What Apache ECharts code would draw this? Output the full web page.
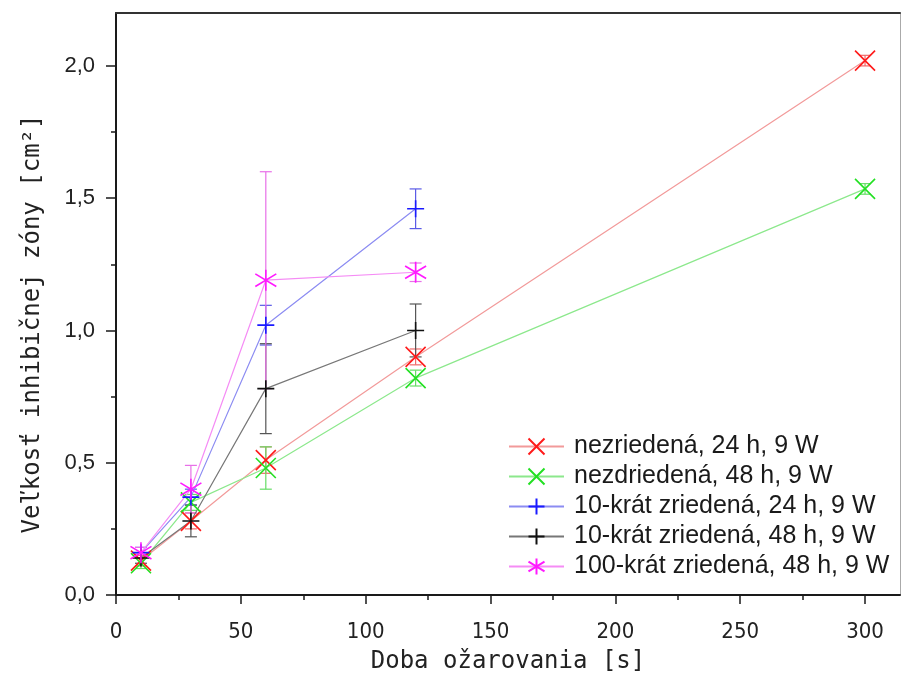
<!DOCTYPE html>
<html><head><meta charset="utf-8">
<script src="https://cdn.jsdelivr.net/npm/echarts@6/dist/echarts.min.js"></script>
<style>html,body{margin:0;padding:0;background:#fff}#c{width:902px;height:684px}</style>
</head><body><div id="c"></div>
<script>
// ---- data ----
const seriesNames = ['nezriedená, 24 h, 9 W', 'nezdriedená, 48 h, 9 W', '10-krát zriedená, 24 h, 9 W', '10-krát zriedená, 48 h, 9 W', '100-krát zriedená, 48 h, 9 W'];
const xLong = [10, 30, 60, 120, 300];
const xShort = [10, 30, 60, 120];
const redY = [0.13, 0.28, 0.51, 0.90, 2.02];
const redErr = [0.02, 0.03, 0.05, 0.03, 0.02];
const greenY = [0.12, 0.35, 0.48, 0.82, 1.535];
const greenErr = [0.02, 0.03, 0.08, 0.03, 0.02];
const blueY = [0.16, 0.37, 1.02, 1.46];
const blueErr = [0.02, 0.03, 0.075, 0.075];
const blackY = [0.14, 0.28, 0.78, 1.00];
const blackErr = [0.02, 0.06, 0.17, 0.10];
const magentaY = [0.16, 0.40, 1.19, 1.22];
const magentaErr = [0.02, 0.09, 0.41, 0.035];
const xTicks = [0, 50, 100, 150, 200, 250, 300];
const xMinorTicks = [25, 75, 125, 175, 225, 275];
const yTicks = [0, 0.5, 1.0, 1.5, 2.0];
const yMinorTicks = [0.25, 0.75, 1.25, 1.75];

// ---- styles ----
const markColors = ['#ff1a1a', '#22e022', '#1a1aff', '#111111', '#ff1aff'];
const lineColors = ['#f29a9a', '#8ce88c', '#8c8cf2', '#777777', '#f58cf5'];
const errColors = ['#f06a6a', '#66dd66', '#5a5ae6', '#555555', '#e870e8'];
const symX = 'path://M0,0L20,20M20,0L0,20';
const symPlus = 'path://M10,0L10,20M0,10L20,10';
const symStar = 'path://M10,0L10,20M1,4L19,16M19,4L1,16';
const symbols = [symX, symX, symPlus, symPlus, symStar];
const symSizes = [20, 20, 17, 17, 21];

const xsList = [xLong, xLong, xShort, xShort, xShort];
const ysList = [redY, greenY, blueY, blackY, magentaY];
const errList = [redErr, greenErr, blueErr, blackErr, magentaErr];

function errRender(color) {
  return function (params, api) {
    const x = api.value(0), y = api.value(1), e = api.value(2);
    const t = api.coord([x, y + e]), b = api.coord([x, y - e]);
    const w = 6;
    const st = { stroke: color, lineWidth: 1.2 };
    return { type: 'group', children: [
      { type: 'line', shape: { x1: t[0], y1: t[1], x2: b[0], y2: b[1] }, style: st },
      { type: 'line', shape: { x1: t[0] - w, y1: t[1], x2: t[0] + w, y2: t[1] }, style: st },
      { type: 'line', shape: { x1: b[0] - w, y1: b[1], x2: b[0] + w, y2: b[1] }, style: st }
    ]};
  };
}

const series = [];
for (let k = 0; k < 5; k++) {
  series.push({
    type: 'custom', name: 'err' + k, silent: true, z: 2,
    renderItem: errRender(errColors[k]),
    encode: { x: 0, y: 1 },
    data: xsList[k].map((x, i) => [x, ysList[k][i], errList[k][i]])
  });
}
for (let k = 0; k < 5; k++) {
  series.push({
    type: 'line', name: seriesNames[k], z: 3,
    symbol: symbols[k], symbolSize: symSizes[k],
    lineStyle: { color: lineColors[k], width: 1.2 },
    itemStyle: { color: 'none', borderColor: markColors[k], borderWidth: 1.6 },
    emphasis: { disabled: true },
    data: xsList[k].map((x, i) => [x, ysList[k][i]])
  });
}

const axisCol = '#1a1a1a';
const tickFont = "'Liberation Sans Narrow', 'DejaVu Sans Condensed', 'Liberation Sans', sans-serif";
const titleFont = "'DejaVu Sans Mono', monospace";

const option = {
  animation: false,
  backgroundColor: '#fff',
  grid: { left: 116, right: 2, top: 13, bottom: 89, show: false },
  legend: {
    data: seriesNames, orient: 'vertical', left: 503, top: 429,
    itemWidth: 55, itemHeight: 20, itemGap: 5,
    textStyle: { fontFamily: "'Liberation Sans', Arial, sans-serif", fontSize: 25, lineHeight: 25, color: '#1a1a1a', padding: [0, 0, 0, 5] }
  },
  xAxis: [
    { type: 'value', min: 0, max: 314, position: 'bottom',
      axisLine: { onZero: false, lineStyle: { color: axisCol, width: 2 } },
      axisTick: { customValues: xTicks, length: 9, lineStyle: { color: axisCol, width: 1.5 } },
      axisLabel: { customValues: xTicks, margin: 26, fontSize: 22, fontFamily: tickFont, color: '#222' },
      splitLine: { show: false },
      name: 'Doba ožarovania [s]', nameLocation: 'middle', nameGap: 55,
      nameTextStyle: { fontFamily: titleFont, fontSize: 24, color: '#222' } },
    { type: 'value', min: 0, max: 314, position: 'bottom',
      axisLine: { show: false, onZero: false },
      axisTick: { customValues: xMinorTicks, length: 5, lineStyle: { color: axisCol, width: 1.5 } },
      axisLabel: { show: false }, splitLine: { show: false } },
    { type: 'value', min: 0, max: 314, position: 'top',
      axisLine: { show: true, onZero: false, lineStyle: { color: '#333', width: 2 } },
      axisTick: { show: false }, axisLabel: { show: false }, splitLine: { show: false } }
  ],
  yAxis: [
    { type: 'value', min: 0, max: 2.2, position: 'left',
      axisLine: { onZero: false, lineStyle: { color: axisCol, width: 2 } },
      axisTick: { customValues: yTicks, length: 10, lineStyle: { color: axisCol, width: 1.5 } },
      axisLabel: { customValues: yTicks, margin: 21, fontSize: 22, fontFamily: "'Liberation Sans', Arial, sans-serif", color: '#222',
        formatter: v => v.toFixed(1).replace('.', ',') },
      splitLine: { show: false },
      name: 'Veľkosť inhibičnej zóny [cm²]', nameLocation: 'middle', nameGap: 71,
      nameTextStyle: { fontFamily: titleFont, fontSize: 24, color: '#222', padding: [0, 40, 0, 0] } },
    { type: 'value', min: 0, max: 2.2, position: 'left',
      axisLine: { show: false, onZero: false },
      axisTick: { customValues: yMinorTicks, length: 5, lineStyle: { color: axisCol, width: 1.5 } },
      axisLabel: { show: false }, splitLine: { show: false } },
    { type: 'value', min: 0, max: 2.2, position: 'right',
      axisLine: { show: true, onZero: false, lineStyle: { color: '#aaaaaa', width: 1 } },
      axisTick: { show: false }, axisLabel: { show: false }, splitLine: { show: false } }
  ],
  series: series
};
const chart = echarts.init(document.getElementById('c'), null, { renderer: 'canvas' });
chart.setOption(option);
</script></body></html>
